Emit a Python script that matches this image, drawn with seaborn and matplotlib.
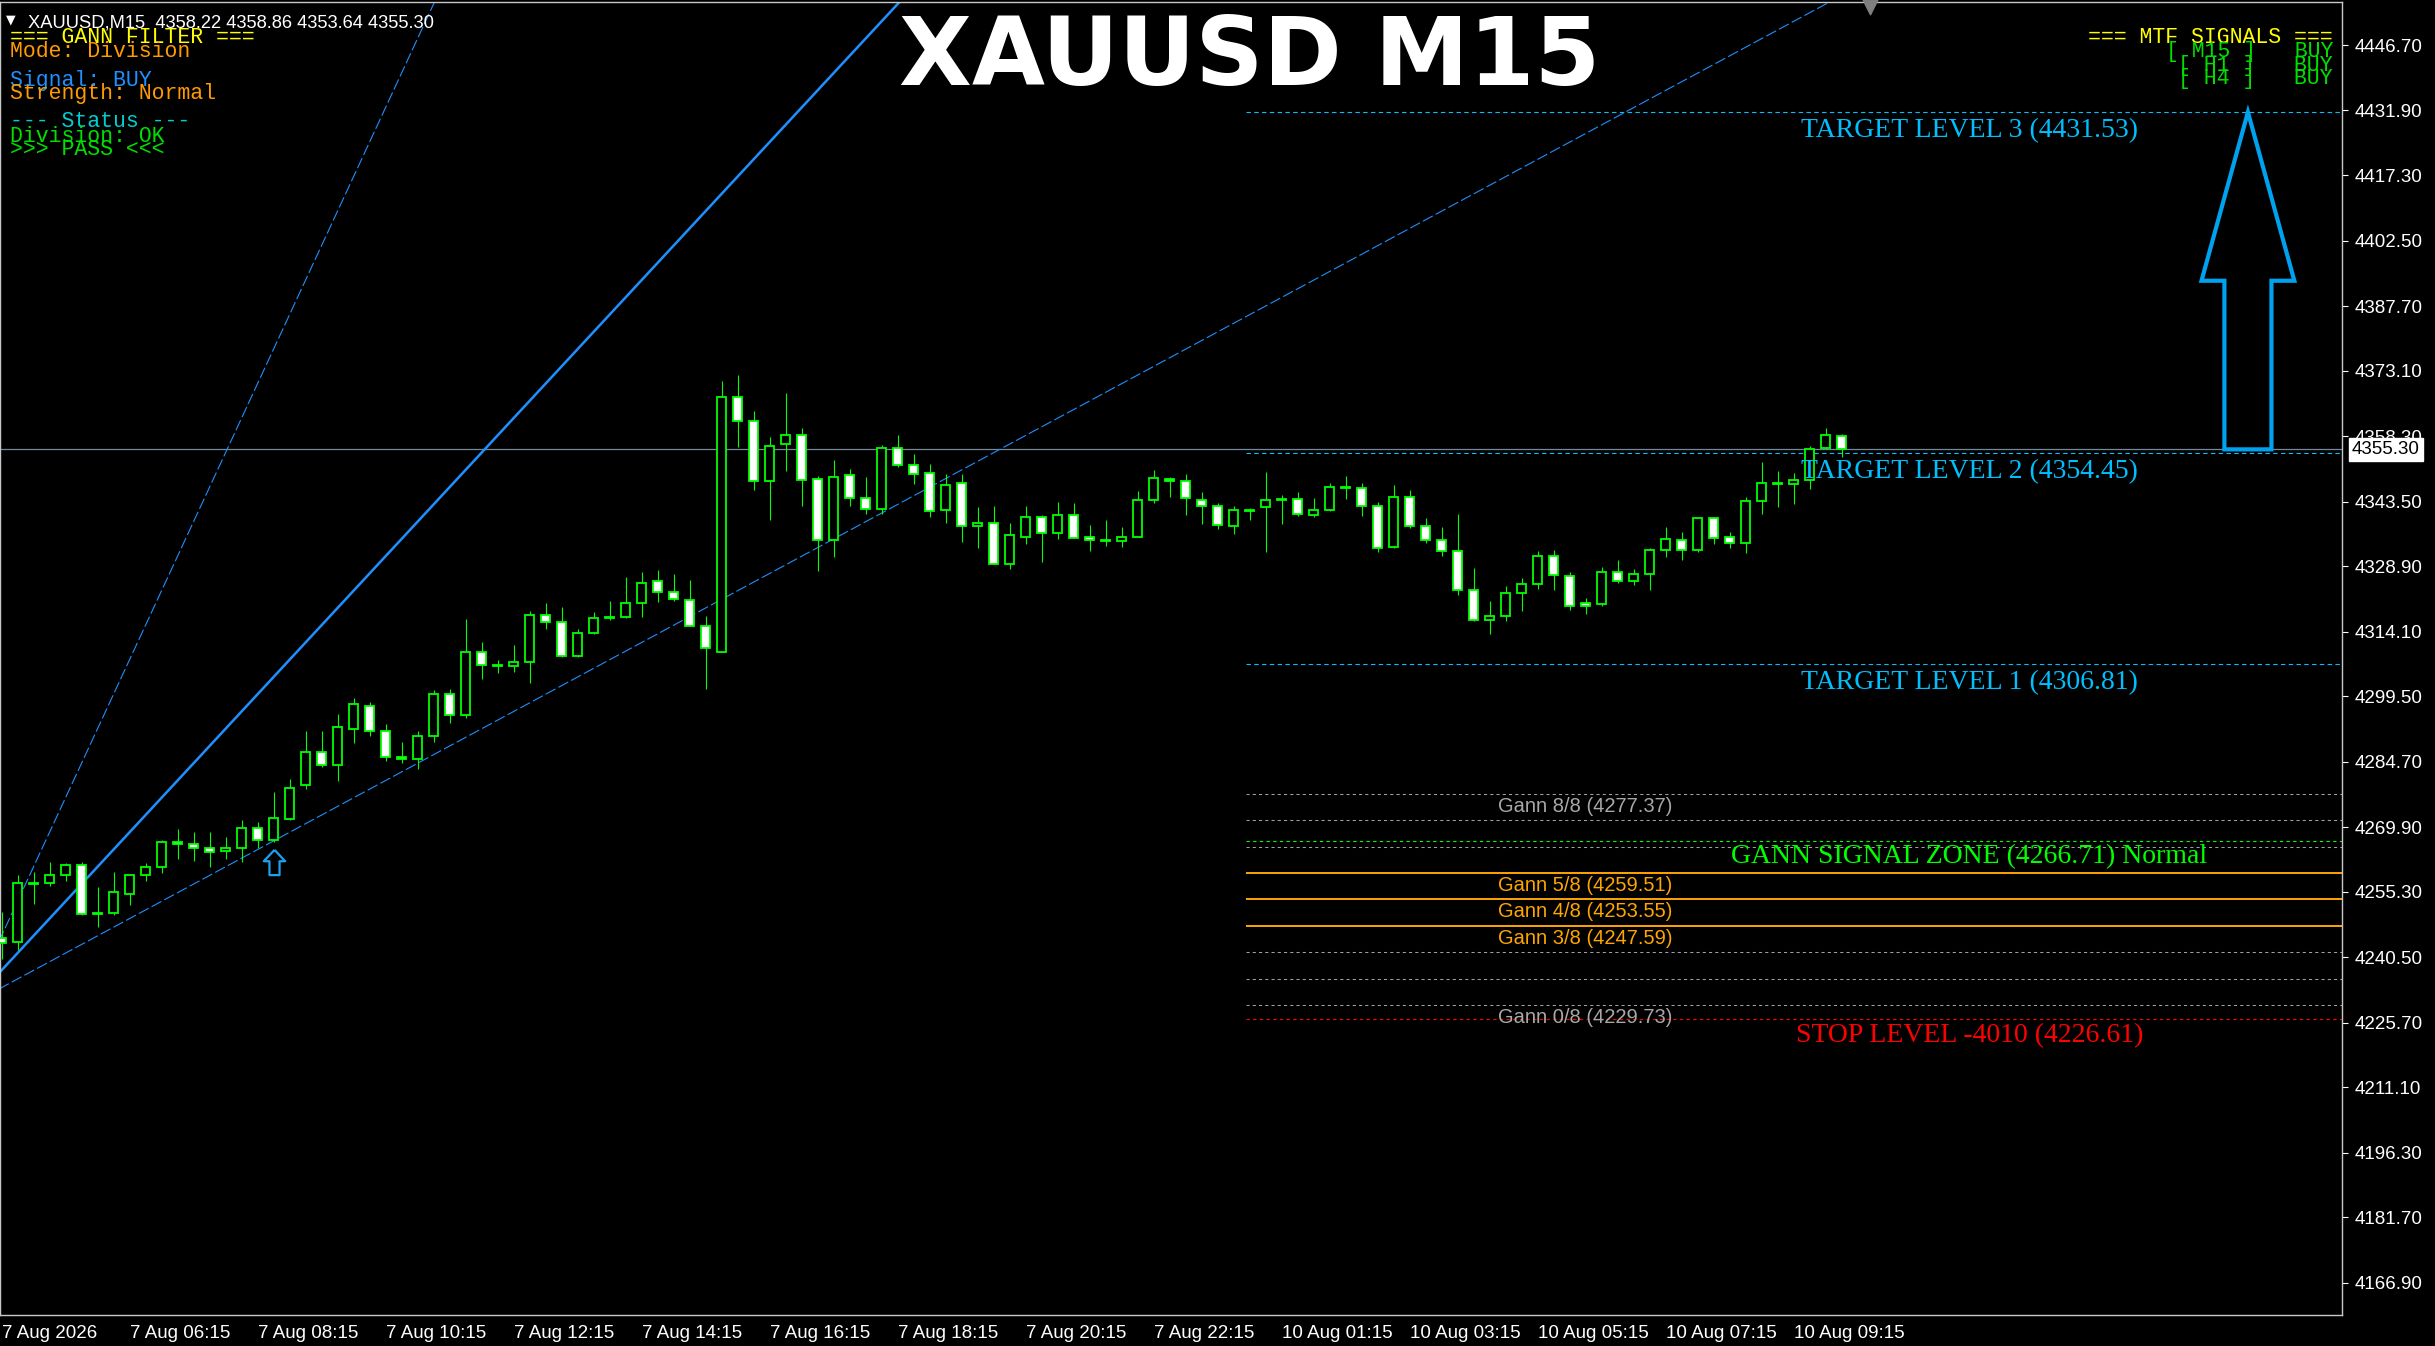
import numpy as np
import pandas as pd
import seaborn as sns
import matplotlib
matplotlib.use('Agg')
from matplotlib import pyplot as plt
from matplotlib.patches import Polygon
from matplotlib.path import Path

# M15 bars, bar 0 = 7 Aug 2026 04:15
opens = [4244.8, 4243.9, 4257.3, 4257.2, 4259.0, 4261.3, 4250.6, 4250.6, 4254.9, 4259.0,
         4261.0, 4266.5, 4266.2, 4265.3, 4264.4, 4265.3, 4269.6, 4267.1, 4271.7, 4279.4,
         4287.0, 4283.9, 4292.2, 4297.4, 4291.6, 4285.7, 4285.4, 4290.4, 4300.1, 4295.2,
         4309.4, 4306.5, 4306.3, 4307.2, 4317.8, 4316.2, 4308.5, 4313.9, 4317.3, 4317.3,
         4320.5, 4325.5, 4323.0, 4321.2, 4315.3, 4309.4, 4367.1, 4361.6, 4348.1, 4356.4,
         4358.6, 4348.5, 4334.7, 4349.4, 4344.2, 4341.8, 4355.5, 4351.7, 4349.9, 4341.5,
         4347.6, 4337.9, 4338.7, 4329.3, 4335.6, 4339.9, 4336.5, 4340.4, 4335.4, 4334.7,
         4334.5, 4335.6, 4343.8, 4348.7, 4348.1, 4343.8, 4342.6, 4337.9, 4341.5, 4342.2,
         4344.0, 4344.0, 4340.4, 4341.7, 4346.7, 4346.5, 4342.4, 4333.2, 4344.5, 4337.9,
         4334.7, 4332.3, 4323.4, 4316.7, 4317.6, 4322.8, 4324.8, 4331.1, 4326.6, 4320.5,
         4320.3, 4327.5, 4325.5, 4327.1, 4332.5, 4334.7, 4332.5, 4339.7, 4335.4, 4334.1,
         4343.6, 4347.6, 4347.4, 4348.3, 4355.5, 4358.22]
highs = [4250.7, 4259.1, 4259.7, 4262.0, 4261.7, 4262.0, 4256.3, 4259.7, 4259.2, 4261.7,
         4267.0, 4269.4, 4268.7, 4268.7, 4267.6, 4271.5, 4271.0, 4277.8, 4280.9, 4291.6,
         4291.6, 4295.4, 4299.2, 4298.3, 4293.2, 4289.1, 4291.6, 4300.9, 4301.1, 4316.9,
         4311.7, 4307.7, 4311.1, 4318.8, 4320.5, 4319.6, 4314.6, 4318.5, 4321.0, 4326.4,
         4327.6, 4328.0, 4327.1, 4325.7, 4317.6, 4370.7, 4372.1, 4363.9, 4358.0, 4368.0,
         4360.1, 4349.2, 4352.8, 4350.8, 4349.0, 4356.3, 4358.5, 4354.2, 4352.0, 4349.7,
         4349.7, 4342.2, 4342.4, 4338.6, 4342.4, 4340.4, 4343.3, 4343.1, 4338.1, 4339.3,
         4337.7, 4345.8, 4350.6, 4349.0, 4349.7, 4345.6, 4343.1, 4342.4, 4342.0, 4350.2,
         4344.9, 4345.6, 4344.2, 4347.8, 4349.3, 4347.6, 4343.5, 4347.2, 4346.0, 4339.7,
         4337.7, 4340.8, 4328.4, 4321.0, 4324.3, 4326.2, 4332.3, 4332.5, 4327.5, 4321.6,
         4328.6, 4330.2, 4328.2, 4332.9, 4337.7, 4336.6, 4339.7, 4339.9, 4336.6, 4344.5,
         4352.4, 4350.3, 4349.9, 4356.0, 4360.1, 4358.86]
lows = [4240.0, 4242.1, 4252.5, 4256.5, 4257.8, 4250.0, 4247.4, 4250.0, 4252.2, 4257.8,
        4259.5, 4262.6, 4262.3, 4261.0, 4262.6, 4262.1, 4265.3, 4266.6, 4271.6, 4278.6,
        4283.6, 4280.4, 4289.0, 4290.6, 4284.9, 4284.3, 4283.1, 4289.2, 4293.5, 4294.5,
        4303.4, 4304.8, 4305.0, 4302.6, 4314.6, 4308.3, 4308.4, 4313.5, 4316.7, 4317.1,
        4317.3, 4320.9, 4321.1, 4315.3, 4301.1, 4309.4, 4355.9, 4346.2, 4339.4, 4350.5,
        4342.6, 4327.7, 4330.9, 4342.6, 4340.6, 4340.6, 4351.2, 4347.4, 4339.9, 4338.7,
        4334.4, 4332.9, 4329.3, 4328.2, 4334.0, 4329.9, 4335.1, 4335.2, 4332.4, 4333.5,
        4333.3, 4335.6, 4343.1, 4344.5, 4340.4, 4338.4, 4337.4, 4336.2, 4339.3, 4332.2,
        4338.5, 4340.2, 4340.1, 4341.4, 4344.1, 4340.3, 4332.2, 4332.9, 4337.5, 4334.1,
        4331.1, 4322.3, 4316.6, 4313.5, 4316.4, 4318.8, 4323.7, 4323.4, 4319.1, 4318.0,
        4319.8, 4325.0, 4324.6, 4323.4, 4330.9, 4330.2, 4332.0, 4333.8, 4332.9, 4331.8,
        4340.8, 4342.2, 4342.9, 4346.3, 4355.3, 4353.64]
closes = [4243.7, 4257.2, 4257.1, 4259.0, 4261.3, 4250.2, 4250.2, 4255.2, 4259.2, 4261.0,
          4266.5, 4266.2, 4265.3, 4264.2, 4265.3, 4269.6, 4267.0, 4271.9, 4278.8, 4287.0,
          4283.9, 4292.5, 4297.7, 4291.6, 4285.7, 4285.4, 4290.4, 4299.9, 4295.2, 4309.4,
          4306.5, 4306.3, 4307.2, 4317.8, 4316.2, 4308.5, 4313.9, 4317.1, 4317.1, 4320.5,
          4325.2, 4323.0, 4321.4, 4315.3, 4310.3, 4367.1, 4361.6, 4348.1, 4356.1, 4358.6,
          4348.3, 4334.7, 4349.0, 4344.2, 4341.8, 4355.5, 4351.7, 4349.7, 4341.3, 4347.2,
          4337.9, 4338.7, 4329.3, 4335.9, 4339.9, 4336.3, 4340.4, 4335.2, 4334.7, 4334.5,
          4335.6, 4343.8, 4348.8, 4348.1, 4344.2, 4342.6, 4338.1, 4341.7, 4341.4, 4343.8,
          4343.8, 4340.6, 4341.7, 4346.7, 4346.5, 4342.4, 4333.1, 4344.5, 4337.9, 4334.7,
          4332.3, 4323.4, 4316.7, 4317.6, 4322.8, 4324.8, 4331.1, 4326.8, 4319.8, 4319.8,
          4327.5, 4325.5, 4327.1, 4332.5, 4335.0, 4332.5, 4339.7, 4335.2, 4334.1, 4343.6,
          4347.6, 4347.4, 4348.3, 4355.3, 4358.5, 4355.30]

time_tick_bars = [0, 8, 16, 24, 32, 40, 48, 56, 64, 72, 80, 88, 96, 104, 112]
time_tick_labels = ['7 Aug 2026', '7 Aug 06:15', '7 Aug 08:15', '7 Aug 10:15', '7 Aug 12:15',
                    '7 Aug 14:15', '7 Aug 16:15', '7 Aug 18:15', '7 Aug 20:15', '7 Aug 22:15',
                    '10 Aug 01:15', '10 Aug 03:15', '10 Aug 05:15', '10 Aug 07:15', '10 Aug 09:15']
price_ticks = [4446.70, 4431.90, 4417.30, 4402.50, 4387.70, 4373.10, 4358.30, 4343.50, 4328.90,
               4314.10, 4299.50, 4284.70, 4269.90, 4255.30, 4240.50, 4225.70, 4211.10, 4196.30,
               4181.70, 4166.90]

# gann fan: origin and price-per-bar of each ray
fan_origin_bar = -2
fan_origin_price = 4229.73
fan_rays = ['2x1', '1x1', '1x2']
fan_slopes = [7.8, 3.9, 1.95]

gann_names = ['0/8', '1/8', '2/8', '3/8', '4/8', '5/8', '6/8', '7/8', '8/8']
gann_prices = [4229.73, 4235.69, 4241.64, 4247.59, 4253.55, 4259.51, 4265.46, 4271.42, 4277.37]
gann_labelled = ['8/8', '5/8', '4/8', '3/8', '0/8']
gann_solid = ['3/8', '4/8', '5/8']

target_names = ['TARGET LEVEL 3', 'TARGET LEVEL 2', 'TARGET LEVEL 1']
target_prices = [4431.53, 4354.45, 4306.81]
signal_zone_price = 4266.71
signal_strength = 'Normal'
stop_points = -4010
stop_price = 4226.61

bid_price = 4355.30
last_ohlc = [4358.22, 4358.86, 4353.64, 4355.30]
levels_start_bar = 77.8
signal_bar = 17
big_arrow_bar = 140.4
shift_marker_bar = 116.8

mtf_frames = ['M15', 'H1', 'H4']
mtf_signals = ['BUY', 'BUY', 'BUY']

LIME = '#00FF00'
W, H = 2435, 1346

sns.set_theme(style='dark', rc={'axes.facecolor': 'black', 'figure.facecolor': 'black',
                                'axes.edgecolor': '#C8C8C8', 'axes.grid': False})
plt.rcParams['font.family'] = ['Liberation Sans', 'DejaVu Sans']

fig = plt.figure(figsize=(W / 100, H / 100), dpi=100)
ax = fig.add_axes([0, (H - 1315) / H, 2342 / W, 1313 / H])
ax.set_facecolor('black')


def fx(px):
    return px / W


def fy(py):
    return 1 - py / H


# bid line
ax.axhline(bid_price, color='#778899', lw=0.9, zorder=1)

# gann fan
fan_end_bar = 160
rows = []
for name, k in zip(fan_rays, fan_slopes):
    rows.append({'ray': name, 'bar': fan_origin_bar, 'price': fan_origin_price})
    rows.append({'ray': name, 'bar': fan_end_bar,
                 'price': fan_origin_price + k * (fan_end_bar - fan_origin_bar)})
fan = pd.DataFrame(rows)
sns.lineplot(data=fan, x='bar', y='price', hue='ray', style='ray', size='ray',
             palette={'2x1': '#1E90FF', '1x1': '#1E90FF', '1x2': '#1E90FF'},
             dashes={'2x1': (10, 3), '1x1': '', '1x2': (10, 3)},
             sizes={'2x1': 0.8, '1x1': 1.8, '1x2': 0.8},
             legend=False, sort=False, ax=ax, zorder=2)

# candles
df = pd.DataFrame({'open': opens, 'high': highs, 'low': lows, 'close': closes})
df['bar'] = np.arange(len(df))
bull = df['close'] >= df['open']
ax.vlines(df['bar'], df['low'], df['high'], color=LIME, lw=0.8, zorder=3)
body_lo = np.minimum(df['open'], df['close'])
body_h = np.maximum((df['close'] - df['open']).abs(), 0.12)
ax.bar(df['bar'], body_h, bottom=body_lo, width=0.62,
       color=np.where(bull, 'black', 'white'), edgecolor=LIME, linewidth=1.3, zorder=4)

xmax = 146.28
# gann levels
for name, p in zip(gann_names, gann_prices):
    if name in gann_solid:
        ax.hlines(p, levels_start_bar, xmax, color='#FFA500', lw=1.4, zorder=2)
    else:
        ax.hlines(p, levels_start_bar, xmax, color='#A0A0A0', lw=0.75,
                  linestyles=(0, (3, 3)), zorder=2)
    if name in gann_labelled:
        col = '#FFA500' if name in gann_solid else '#A8A8A8'
        ax.annotate(f'Gann {name} ({p:.2f})', (99.0, p), xytext=(0, -18),
                    textcoords='offset pixels', ha='center', va='baseline',
                    color=col, fontsize=14.5, zorder=6)

# target / zone / stop levels
serif = ['Liberation Serif', 'DejaVu Serif']
for name, p in zip(target_names, target_prices):
    ax.hlines(p, levels_start_bar, xmax, color='#00BFFF', lw=0.8,
              linestyles=(0, (4, 3)), zorder=2)
    ax.annotate(f'{name} ({p:.2f})', (123.0, p), xytext=(0, -25),
                textcoords='offset pixels', ha='center', va='baseline',
                color='#00BFFF', fontsize=20, family=serif, zorder=6)
ax.hlines(signal_zone_price, levels_start_bar, xmax, color=LIME, lw=0.8,
          linestyles=(0, (3, 3)), zorder=2)
ax.annotate(f'GANN SIGNAL ZONE ({signal_zone_price:.2f}) {signal_strength}',
            (123.0, signal_zone_price), xytext=(0, -22), textcoords='offset pixels',
            ha='center', va='baseline', color=LIME, fontsize=20, family=serif, zorder=6)
ax.hlines(stop_price, levels_start_bar, xmax, color='#FF0000', lw=0.8,
          linestyles=(0, (3, 3)), zorder=2)
ax.annotate(f'STOP LEVEL {stop_points} ({stop_price:.2f})', (123.0, stop_price),
            xytext=(0, -23), textcoords='offset pixels', ha='center', va='baseline',
            color='#FF0000', fontsize=20, family=serif, zorder=6)

# signal arrow under the bar
arrow_path = Path([(0, 1), (0.85, 0.1), (0.4, 0.1), (0.4, -1), (-0.4, -1),
                   (-0.4, 0.1), (-0.85, 0.1), (0, 1)])
ax.scatter([signal_bar], [lows[signal_bar] - 4.6], marker=arrow_path, s=330,
           facecolor='black', edgecolor='#1EA0F0', linewidth=1.6, zorder=5)

# big target arrow
head_p = bid_price + 0.5 * (target_prices[0] - bid_price)
bx = big_arrow_bar
ax.add_patch(Polygon([(bx, target_prices[0]), (bx + 2.9, head_p), (bx + 1.47, head_p),
                      (bx + 1.47, bid_price), (bx - 1.47, bid_price), (bx - 1.47, head_p),
                      (bx - 2.9, head_p)], closed=True, fill=False,
                     edgecolor='#00A2F0', lw=3, zorder=5))

# chart shift marker
ax.scatter([shift_marker_bar], [4455.2], marker='v', s=110, color='#808080',
           clip_on=False, zorder=7)

ax.set_xlim(-0.094, xmax)
ax.set_ylim(4159.63, 4456.42)
ax.set_xlabel('')
ax.set_ylabel('')

ax.yaxis.tick_right()
ax.set_yticks(price_ticks)
ax.set_yticklabels([f'{v:.2f}' for v in price_ticks])
ax.set_xticks(time_tick_bars)
ax.set_xticklabels(time_tick_labels, ha='left')
ax.tick_params(axis='y', colors='white', length=4, width=0.8, pad=5, labelsize=13.5,
               direction='out', right=True, left=False)
ax.tick_params(axis='x', colors='white', length=4, width=0.8, pad=3, labelsize=13.5,
               direction='out')
for s in ax.spines.values():
    s.set_color('#C8C8C8')
    s.set_linewidth(1.0)

# bid price box on the axis
ax.annotate(f'{bid_price:.2f}', (1, bid_price), xycoords=('axes fraction', 'data'),
            xytext=(10, 0), textcoords='offset pixels', ha='left', va='center',
            color='black', fontsize=13.5, annotation_clip=False, zorder=10,
            bbox=dict(boxstyle='square,pad=0.15', fc='white', ec='white'))

# header line
fig.text(fx(11), fy(20), '\u25bc', color='white', fontsize=9, ha='center', va='center',
         family='DejaVu Sans')
fig.text(fx(28), fy(27), 'XAUUSD,M15  ' + ' '.join(f'{v:.2f}' for v in last_ohlc),
         color='white', fontsize=13.2, ha='left', va='baseline')

# title
fig.text(fx(1250), fy(85), 'XAUUSD M15', color='white', fontsize=68, fontweight='bold',
         family='DejaVu Sans', ha='center', va='baseline')

# filter panel
mono = ['Liberation Mono', 'DejaVu Sans Mono']
panel = [('=== GANN FILTER ===', '#FFFF00', 43),
         ('Mode: Division', '#FF9A00', 57),
         ('Signal: BUY', '#1E90FF', 86),
         ('Strength: Normal', '#FF9A00', 99),
         ('--- Status ---', '#00CED1', 127),
         ('Division: OK', '#00E000', 141.5),
         ('>>> PASS <<<', '#00E000', 155)]
for txt, col, y in panel:
    fig.text(fx(10), fy(y), txt, color=col, fontsize=15.5, family=mono, va='baseline')

fig.text(fx(2333), fy(43), '=== MTF SIGNALS ===', color='#FFFF00', fontsize=15.5,
         family=mono, ha='right', va='baseline')
for i, (tf, sig) in enumerate(zip(mtf_frames, mtf_signals)):
    fig.text(fx(2333), fy(57 + 13.5 * i), f'[ {tf} ]   {sig}', color='#00E000',
             fontsize=15.5, family=mono, ha='right', va='baseline')

fig.savefig('out.png', dpi=100, facecolor='black')
